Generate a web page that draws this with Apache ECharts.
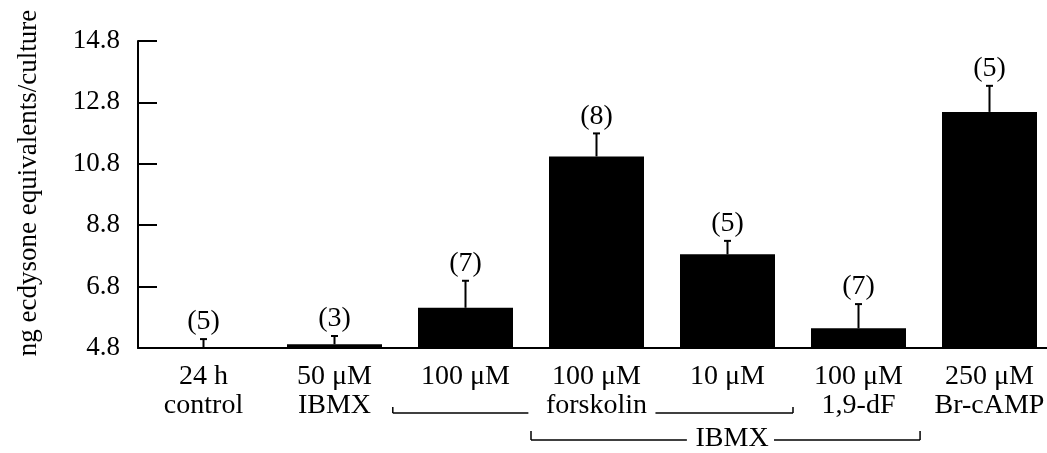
<!DOCTYPE html>
<html>
<head>
<meta charset="utf-8">
<script src="https://cdn.jsdelivr.net/npm/echarts@6/dist/echarts.min.js"></script>
<style>
html,body{margin:0;padding:0;background:#fff;}
#chart{width:1047px;height:453px;}
</style>
</head>
<body>
<div id="chart"></div>
<script>
const categories = ['24 h\ncontrol', '50 μM\nIBMX', '100 μM', '100 μM\nforskolin', '10 μM', '100 μM\n1,9-dF', '250 μM\nBr-cAMP'];
const means = [4.81, 4.92, 6.11, 11.04, 7.85, 5.44, 12.49];
const errors = [0.28, 0.27, 0.88, 0.75, 0.44, 0.79, 0.85];
const nLabels = ['(5)', '(3)', '(7)', '(8)', '(5)', '(7)', '(5)'];
const yTicks = [4.8, 6.8, 8.8, 10.8, 12.8, 14.8];
const yTitle = 'ng ecdysone equivalents/culture';
const groupIBMX = 'IBMX';

const FONT = "'Liberation Serif', 'Times New Roman', serif";
const chart = echarts.init(document.getElementById('chart'), null, {renderer: 'canvas'});

const errData = means.map((m, i) => [i, m, errors[i]]);

chart.setOption({
  animation: false,
  backgroundColor: '#fff',
  grid: {left: 138, top: 41, width: 917, height: 307, outerBoundsMode: 'none', containLabel: false},
  xAxis: {
    type: 'category',
    data: categories,
    axisLine: {lineStyle: {color: '#000', width: 2}},
    axisTick: {inside: true, length: 7, lineStyle: {color: '#000', width: 2}},
    axisLabel: {interval: 0, color: '#000', fontFamily: FONT, fontSize: 28, lineHeight: 29, margin: 14}
  },
  yAxis: {
    type: 'value',
    min: 4.8,
    max: 14.8,
    splitLine: {show: false},
    axisLine: {show: true, lineStyle: {color: '#000', width: 2}},
    axisTick: {show: true, inside: true, length: 19, customValues: yTicks, lineStyle: {color: '#000', width: 2}},
    axisLabel: {customValues: yTicks, formatter: v => Number(v).toFixed(1), color: '#000', fontFamily: FONT, fontSize: 27, margin: 18}
  },
  series: [
    {
      type: 'bar',
      data: means,
      barWidth: 95,
      itemStyle: {color: '#000'},
      z: 2
    },
    {
      type: 'custom',
      data: errData,
      clip: false,
      z: 3,
      renderItem: function (params, api) {
        const idx = api.value(0), m = api.value(1), e = api.value(2);
        const base = api.coord([idx, m]);
        const top = api.coord([idx, m + e]);
        return {
          type: 'group',
          children: [
            {type: 'line', shape: {x1: base[0], y1: base[1], x2: top[0], y2: top[1]}, style: {stroke: '#000', lineWidth: 2}},
            {type: 'line', shape: {x1: top[0] - 3.5, y1: top[1], x2: top[0] + 3.5, y2: top[1]}, style: {stroke: '#000', lineWidth: 2}},
            {type: 'text', x: top[0], y: top[1] - 17, style: {text: nLabels[params.dataIndex], fill: '#000', font: '28px ' + FONT, textAlign: 'center', textVerticalAlign: 'middle'}}
          ]
        };
      }
    }
  ]
});

const cx = i => chart.convertToPixel({xAxisIndex: 0}, i);
const w = cx(1) - cx(0);
const ln = (x1, y1, x2, y2) => ({type: 'line', shape: {x1, y1, x2, y2}, style: {stroke: '#000', lineWidth: 1.5}, z: 10});

const fL = cx(2) - 0.555 * w, fR = cx(4) + 0.5 * w, fY = 413;
const iL = cx(3) - 0.5 * w, iR = cx(5) + 0.47 * w, iY = 440;
const iText = cx(4) + 0.035 * w;

chart.setOption({
  graphic: [
    {type: 'text', x: 29, y: 183, rotation: Math.PI / 2, style: {text: yTitle, fill: '#000', font: '27px ' + FONT, textAlign: 'center', textVerticalAlign: 'middle'}},
    ln(fL, fY - 6, fL, fY), ln(fL, fY, cx(3) - 0.52 * w, fY),
    ln(cx(3) + 0.45 * w, fY, fR, fY), ln(fR, fY, fR, fY - 6),
    ln(iL, iY - 9, iL, iY), ln(iL, iY, cx(4) - 0.31 * w, iY),
    ln(cx(4) + 0.355 * w, iY, iR, iY), ln(iR, iY, iR, iY - 9),
    {type: 'text', x: iText, y: 438.5, style: {text: groupIBMX, fill: '#000', font: '28px ' + FONT, textAlign: 'center', textVerticalAlign: 'middle'}, z: 10}
  ]
});
</script>
</body>
</html>
